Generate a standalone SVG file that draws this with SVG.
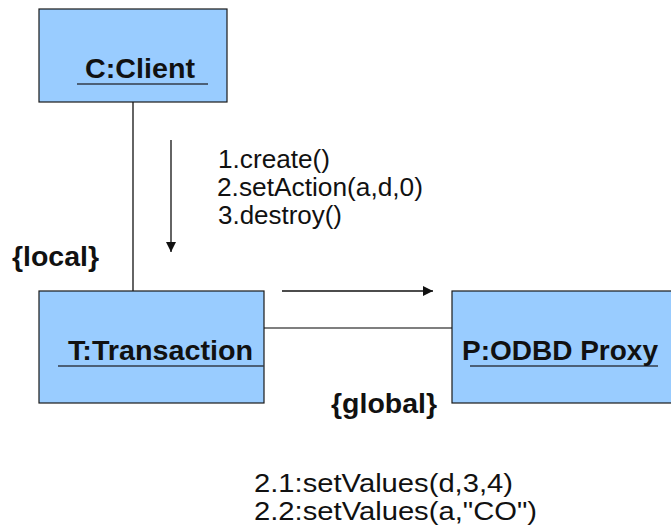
<svg xmlns="http://www.w3.org/2000/svg" width="671" height="528" viewBox="0 0 671 528">
<defs>
<style>
.box{fill:#99ccff;stroke:#1a1a1a;stroke-width:1.2}
.ul{stroke:#333c4a;stroke-width:1.5}
.name{font-family:"Liberation Sans",Arial,sans-serif;font-weight:bold;font-size:28px;fill:#111}
.lbl{font-family:"Liberation Sans",Arial,sans-serif;font-size:26px;fill:#111}
.con{fill:none;stroke:#111;stroke-width:1.3}
.assoc{fill:none;stroke:#555;stroke-width:1.5}
</style>
<marker id="ah" viewBox="0 0 10 10" refX="10" refY="5" markerWidth="17" markerHeight="10" markerUnits="userSpaceOnUse" orient="auto">
<path d="M0,0 L10,5 L0,10 Z" fill="#111"/>
</marker>
</defs>
<rect width="671" height="528" fill="#fff"/>
<g id="connectors">
<line class="con" x1="133" y1="102" x2="133" y2="291"/>
<line class="assoc" x1="264" y1="328" x2="452" y2="328"/>
<line class="con" x1="171" y1="140" x2="171" y2="252" marker-end="url(#ah)"/>
<line class="con" x1="282" y1="291" x2="433" y2="291" marker-end="url(#ah)"/>
</g>
<g id="client">
<rect class="box" x="39" y="9" width="188" height="93"/>
<line class="ul" x1="77" y1="84" x2="208" y2="84"/>
<text class="name" x="85" y="78" textLength="110" lengthAdjust="spacingAndGlyphs">C:Client</text>
</g>
<g id="transaction">
<rect class="box" x="39" y="291" width="225" height="112"/>
<line class="ul" x1="58" y1="366" x2="264" y2="366"/>
<text class="name" x="68" y="360" textLength="185" lengthAdjust="spacingAndGlyphs">T:Transaction</text>
</g>
<g id="proxy">
<rect class="box" x="452" y="291" width="225" height="112"/>
<line class="ul" x1="470" y1="366" x2="658" y2="366"/>
<text class="name" x="462" y="360" textLength="196" lengthAdjust="spacingAndGlyphs">P:ODBD Proxy</text>
</g>
<g id="labels">
<text class="name" x="12" y="266" textLength="87" lengthAdjust="spacingAndGlyphs">{local}</text>
<text class="name" x="331" y="413" textLength="106" lengthAdjust="spacingAndGlyphs">{global}</text>
<text class="lbl" x="218" y="168" textLength="112" lengthAdjust="spacingAndGlyphs">1.create()</text>
<text class="lbl" x="217" y="196" textLength="206" lengthAdjust="spacingAndGlyphs">2.setAction(a,d,0)</text>
<text class="lbl" x="218" y="224" textLength="124" lengthAdjust="spacingAndGlyphs">3.destroy()</text>
<text class="lbl" x="254" y="492" font-size="28" textLength="259" lengthAdjust="spacingAndGlyphs">2.1:setValues(d,3,4)</text>
<text class="lbl" x="254" y="520" font-size="28" textLength="283" lengthAdjust="spacingAndGlyphs">2.2:setValues(a,"CO")</text>
</g>
</svg>
